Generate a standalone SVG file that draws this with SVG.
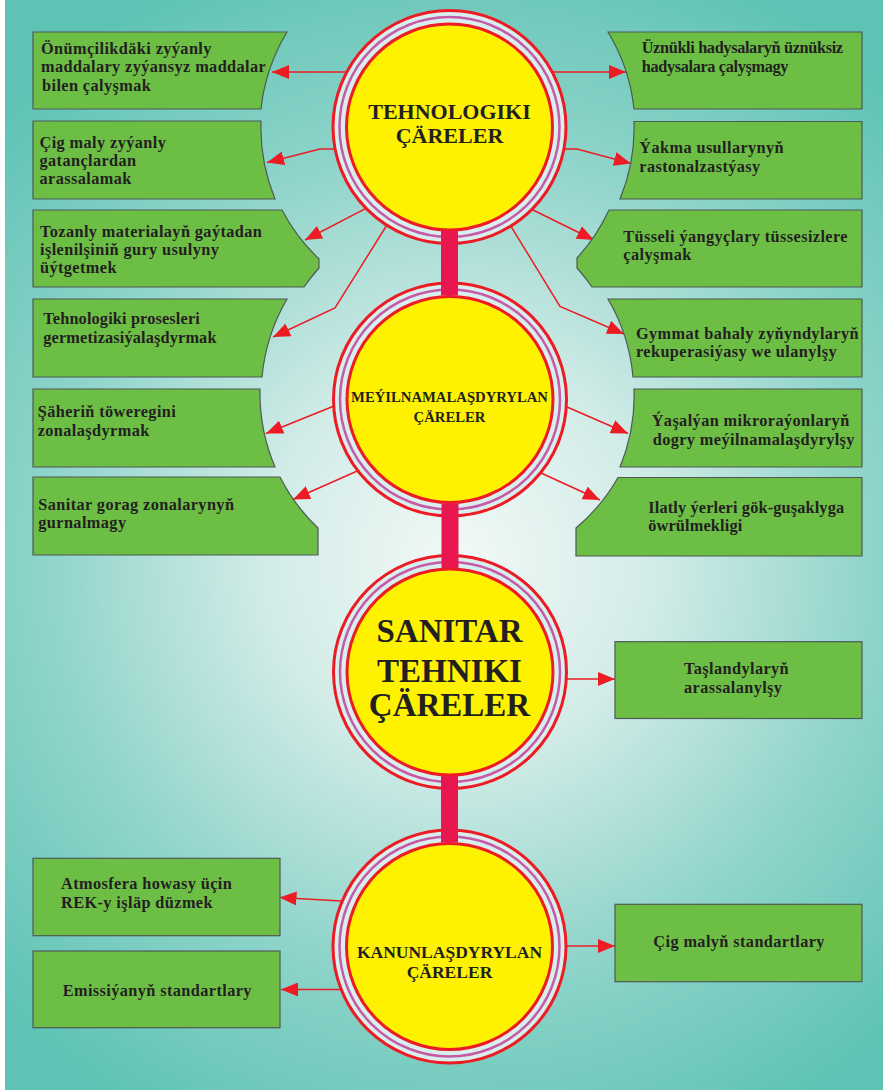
<svg xmlns="http://www.w3.org/2000/svg" width="883" height="1092" viewBox="0 0 883 1092">
<defs>
<radialGradient id="bg" gradientUnits="userSpaceOnUse" cx="460" cy="560" r="640">
<stop offset="0" stop-color="#f2f9f7"/>
<stop offset="0.3" stop-color="#d3ece8"/>
<stop offset="0.65" stop-color="#8fd4ca"/>
<stop offset="1" stop-color="#5ec3b4"/>
</radialGradient>
<marker id="ah" markerUnits="userSpaceOnUse" markerWidth="17" markerHeight="14" viewBox="0 0 17 14" refX="17" refY="7" orient="auto">
<path d="M0,0 L17,7 L0,14 Z" fill="#ed1c24"/>
</marker>
</defs>
<style>
.box{fill:#6dbe45;stroke:#4d5a56;stroke-width:1.2}
.bt{font-family:"Liberation Serif","Times New Roman",serif;font-weight:bold;font-size:16.3px;letter-spacing:0.4px;fill:#231f20}
.bt.tight{letter-spacing:-0.35px}
.bt.mid{letter-spacing:0.15px}
.ct{font-family:"Liberation Serif","Times New Roman",serif;font-weight:bold;fill:#231f20;text-anchor:middle}
.ring{fill:#d8efed;stroke:#ed1c24;stroke-width:3}
.pur{fill:none;stroke:#c65aa6;stroke-width:2.5}
.yel{fill:#fff200;stroke:#ed1c24;stroke-width:3}
.con{fill:none;stroke:#ed1c24;stroke-width:1.5;marker-end:url(#ah)}
.bar{fill:#e8174f}
</style>
<rect x="0" y="0" width="883" height="1092" fill="#ffffff"/>
<rect x="5" y="0" width="878" height="1090" fill="url(#bg)"/>

<g id="node-tehnologiki">
<circle class="ring" cx="449.5" cy="127" r="116.5"/>
<circle class="pur" cx="449.5" cy="127" r="110"/>
<circle class="yel" cx="449.5" cy="127" r="103"/>
<text class="ct" x="449.5" y="119" font-size="22">TEHNOLOGIKI</text>
<text class="ct" x="449.5" y="143" font-size="22">ÇÄRELER</text>
</g>
<g id="node-meyilnama">
<circle class="ring" cx="450" cy="399.5" r="116.5"/>
<circle class="pur" cx="450" cy="399.5" r="110"/>
<circle class="yel" cx="450" cy="399.5" r="103"/>
<text class="ct" x="449.5" y="401.7" font-size="14.7">MEÝILNAMALAŞDYRYLAN</text>
<text class="ct" x="449.5" y="421.7" font-size="14.7">ÇÄRELER</text>
</g>
<g id="node-sanitar">
<circle class="ring" cx="450" cy="672" r="116.5"/>
<circle class="pur" cx="450" cy="672" r="110"/>
<circle class="yel" cx="450" cy="672" r="103"/>
<text class="ct" x="449.5" y="641.7" font-size="33">SANITAR</text>
<text class="ct" x="449.5" y="681.7" font-size="33">TEHNIKI</text>
<text class="ct" x="449.5" y="715.7" font-size="33">ÇÄRELER</text>
</g>
<g id="node-kanun">
<circle class="ring" cx="449.5" cy="946.5" r="116.5"/>
<circle class="pur" cx="449.5" cy="946.5" r="110"/>
<circle class="yel" cx="449.5" cy="946.5" r="103"/>
<text class="ct" x="449.5" y="958" font-size="17.5">KANUNLAŞDYRYLAN</text>
<text class="ct" x="449.5" y="978" font-size="17.5">ÇÄRELER</text>
</g>

<g id="connectors">
<rect class="bar" x="441" y="231" width="17" height="64.5"/>
<rect class="bar" x="441.5" y="503.5" width="17" height="64.5"/>
<rect class="bar" x="441" y="776" width="17" height="66.5"/>
<path class="con" d="M346.2,72 L272,72"/>
<path class="con" d="M334.6,149 L320,149 L267,162.5"/>
<path class="con" d="M365.5,208.7 L305,240"/>
<path class="con" d="M386.6,225.5 L335,308 L273,337"/>
<path class="con" d="M552.8,72 L626,72"/>
<path class="con" d="M564.4,149 L577,149 L631,163.5"/>
<path class="con" d="M533,210 L594,240"/>
<path class="con" d="M511,226.3 L560,306.5 L624,334"/>
<path class="con" d="M334,406 L266,433.5"/>
<path class="con" d="M357.3,471 L293,499.5"/>
<path class="con" d="M567,407 L628,433.5"/>
<path class="con" d="M541,473 L600,500"/>
<path class="con" d="M567,679 L615,679"/>
<path class="con" d="M341,901 L279.5,897.5"/>
<path class="con" d="M340.5,989.5 L281,989.5"/>
<path class="con" d="M567,946 L615,946"/>
</g>

<g id="box-l1">
<path class="box" d="M33,32 L287,32 A188,188 0 0,0 261,109 L33,109 Z"/>
<text class="bt" x="41" y="54">Önümçilikdäki zyýanly</text>
<text class="bt" x="41" y="72">maddalary zyýansyz maddalar</text>
<text class="bt" x="42" y="90.5">bilen çalyşmak</text>
</g>
<g id="box-l2">
<path class="box" d="M33,121 L261,121 A188,188 0 0,0 275,199 L33,199 Z"/>
<text class="bt" x="39.5" y="147.7">Çig maly zyýanly</text>
<text class="bt" x="39.5" y="165.7">gatançlardan</text>
<text class="bt" x="39.5" y="183.5">arassalamak</text>
</g>
<g id="box-l3">
<path class="box" d="M33,210 L282,210 A187,187 0 0,0 319,259 L319,268 A187,187 0 0,0 304,287 L33,287 Z"/>
<text class="bt" x="40" y="236.7">Tozanly materialayň gaýtadan</text>
<text class="bt" x="40" y="254.5">işlenilşiniň gury usulyny</text>
<text class="bt" x="40" y="272.7">üýtgetmek</text>
</g>
<g id="box-l4">
<path class="box" d="M33,299 L287,299 A191,191 0 0,0 262,377 L33,377 Z"/>
<text class="bt mid" x="43.3" y="324.3">Tehnologiki prosesleri</text>
<text class="bt mid" x="43.3" y="342.7">germetizasiýalaşdyrmak</text>
</g>
<g id="box-l5">
<path class="box" d="M33,389 L260,389 A189,189 0 0,0 275,467 L33,467 Z"/>
<text class="bt" x="37.7" y="417.3">Şäheriň töweregini</text>
<text class="bt" x="37.7" y="435.7">zonalaşdyrmak</text>
</g>
<g id="box-l6">
<path class="box" d="M33,477 L280,477 A185,185 0 0,0 318,528 L318,555 L33,555 Z"/>
<text class="bt" x="38.3" y="510">Sanitar gorag zonalarynyň</text>
<text class="bt" x="38.3" y="528.3">gurnalmagy</text>
</g>

<g id="box-r1">
<path class="box" d="M862,32 L608,32 A186,186 0 0,1 634,109 L862,109 Z"/>
<text class="bt tight" x="641.7" y="53.3">Üznükli hadysalaryň üznüksiz</text>
<text class="bt tight" x="641.7" y="71.7">hadysalara çalyşmagy</text>
</g>
<g id="box-r2">
<path class="box" d="M862,121.5 L634,121.5 A186,186 0 0,1 620,199 L862,199 Z"/>
<text class="bt" x="639.3" y="153">Ýakma usullarynyň</text>
<text class="bt" x="639.3" y="172.3">rastonalzastýasy</text>
</g>
<g id="box-r3">
<path class="box" d="M862,210 L609,210 A187,187 0 0,1 577,258 L577,268 A187,187 0 0,1 592,287 L862,287 Z"/>
<text class="bt" x="623.3" y="241.7">Tüsseli ýangyçlary tüssesizlere</text>
<text class="bt" x="623.3" y="260">çalyşmak</text>
</g>
<g id="box-r4">
<path class="box" d="M862,299 L608,299 A187,187 0 0,1 633,377 L862,377 Z"/>
<text class="bt" x="636" y="339.3">Gymmat bahaly zyňyndylaryň</text>
<text class="bt" x="636" y="356.7">rekuperasiýasy we  ulanylşy</text>
</g>
<g id="box-r5">
<path class="box" d="M862,389 L634,389 A185,185 0 0,1 620,467 L862,467 Z"/>
<text class="bt" x="651.7" y="426">Ýaşalýan mikroraýonlaryň</text>
<text class="bt" x="652.7" y="445">dogry meýilnamalaşdyrylşy</text>
</g>
<g id="box-r6">
<path class="box" d="M862,477.5 L618,477.5 A185,185 0 0,1 576,528 L576,556 L862,556 Z"/>
<text class="bt mid" x="648.3" y="513.3">Ilatly ýerleri gök-guşaklyga</text>
<text class="bt mid" x="648.3" y="530.7">öwrülmekligi</text>
</g>

<g id="box-taslandy">
<rect class="box" x="615" y="641.7" width="247" height="76.8"/>
<text class="bt" x="684" y="674.3">Taşlandylaryň</text>
<text class="bt" x="684" y="693">arassalanylşy</text>
</g>

<g id="box-atmosfera">
<rect class="box" x="33" y="858.3" width="247" height="77.4"/>
<text class="bt" x="61" y="889.3">Atmosfera howasy üçin</text>
<text class="bt" x="61" y="908.3">REK-y işläp düzmek</text>
</g>
<g id="box-emissiya">
<rect class="box" x="33" y="951" width="247" height="76.7"/>
<text class="bt" x="62.7" y="995.7">Emissiýanyň standartlary</text>
</g>
<g id="box-cig">
<rect class="box" x="615" y="904.3" width="247" height="77.4"/>
<text class="bt" x="653.3" y="947.3">Çig malyň standartlary</text>
</g>
</svg>
